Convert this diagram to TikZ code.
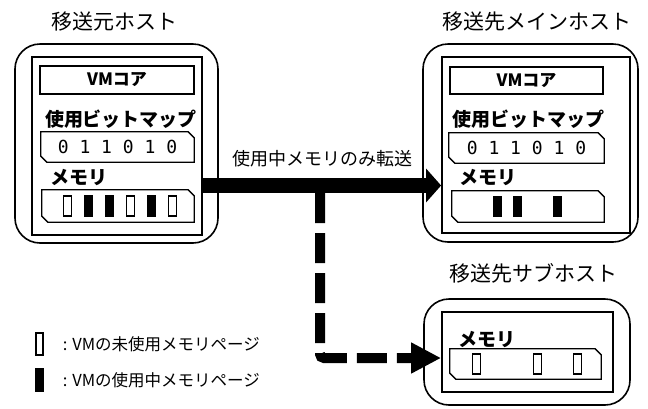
\documentclass[tikz,border=0pt]{standalone}
\usepackage{fontspec}
\setmainfont{Noto Sans CJK JP}
\newfontfamily\digitfont{DejaVu Sans Mono}
\usetikzlibrary{arrows.meta, positioning}

% outline with two cut corners (north east, south west)
\newcommand\chambox[1]{%
  \draw[line width=1.3pt] (#1.north west) -- ([xshift=-6pt]#1.north east) -- ([yshift=-6pt]#1.north east)
    -- (#1.south east) -- ([xshift=6pt]#1.south west) -- ([yshift=6pt]#1.south west) -- cycle;}

\begin{document}
\begin{tikzpicture}[
    x=1pt, y=-1pt,
    hostout/.style={draw, rounded corners=25pt, line width=1.6pt, inner sep=0pt},
    hostin/.style={draw, line width=1.8pt, inner sep=0pt},
    corebox/.style={draw, line width=1.3pt, inner sep=0pt, font=\bfseries\fontsize{17}{20}\selectfont},
    slotbox/.style={inner sep=0pt},
    head/.style={font=\fontsize{21}{24}\selectfont},
    part/.style={font=\bfseries\fontsize{19}{22}\selectfont, inner sep=0pt},
    pg0/.style={draw, line width=1.2pt, fill=white, minimum width=8pt, minimum height=20pt, inner sep=0pt},
    pg1/.style={pg0, fill=black},
    legend/.style={font=\fontsize{16.5}{18}\selectfont, inner sep=0pt},
    bigarrow/.style={line width=15pt, -{Triangle[length=15pt, width=33pt]}},
    dasharrow/.style={line width=10pt, dash pattern=on 30pt off 10pt, rounded corners=4pt,
      -{Triangle[length=30pt, width=29pt]}}
  ]
  \useasboundingbox (0,0) rectangle (648,408);

  % source host
  \node[head] (srchead) at (114.5,22) {移送元ホスト};
  \node[hostout, minimum width=203pt, minimum height=199pt] (srcout) at (116.5,143.5) {};
  \node[hostin, minimum width=170pt, minimum height=178pt] (srcin) at (117,146) {};
  \node[corebox, minimum width=154pt, minimum height=28pt] (srccore) at (117,80) {VMコア};
  \node[part] (srcbmp) at (121,119) {使用ビットマップ};
  \node[slotbox, minimum width=153pt, minimum height=30pt] (srcbits) at (117.5,147)
    {\digitfont\fontsize{18}{20}\selectfont 0 1 1 0 1 0};
  \chambox{srcbits}
  \node[part, anchor=west] (srcmemlabel) at (50,177) {メモリ};
  \node[slotbox, minimum width=152pt, minimum height=32pt] (srcmem) at (118,206) {};
  \chambox{srcmem}
  \foreach \b [count=\i] in {0,1,1,0,1,0}
    \node[pg\b] (srcpg\i) at ([xshift={25.5pt+(\i-1)*21pt}]srcmem.west) {};

  % main destination host
  \node[head] (dsthead) at (537,22) {移送先メインホスト};
  \node[hostout, minimum width=215pt, minimum height=198pt] (dstout) at (530.5,143) {};
  \node[hostin, minimum width=188pt, minimum height=176pt] (dstin) at (536,145) {};
  \node[corebox, minimum width=153pt, minimum height=27pt] (dstcore) at (526.5,80.5) {VMコア};
  \node[part] (dstbmp) at (528,119) {使用ビットマップ};
  \node[slotbox, minimum width=155pt, minimum height=30pt] (dstbits) at (526.5,148)
    {\digitfont\fontsize{18}{20}\selectfont 0 1 1 0 1 0};
  \chambox{dstbits}
  \node[part, anchor=west] (dstmemlabel) at (459,177) {メモリ};
  \node[slotbox, minimum width=152pt, minimum height=31pt] (dstmem) at (528,206.5) {};
  \chambox{dstmem}
  \foreach \i in {2,3,5}
    \node[pg1] (dstpg\i) at ([xshift={25.5pt+(\i-1)*20pt}]dstmem.west) {};

  % sub destination host
  \node[head] (subhead) at (533,273) {移送先サブホスト};
  \node[hostout, minimum width=206pt, minimum height=106pt] (subout) at (527,352) {};
  \node[hostin, minimum width=171pt, minimum height=80pt] (subin) at (527.5,352) {};
  \node[part, anchor=west] (submemlabel) at (458,339) {メモリ};
  \node[slotbox, minimum width=151pt, minimum height=30pt] (submem) at (525.5,364) {};
  \chambox{submem}
  \foreach \i in {1,4,6}
    \node[pg0] (subpg\i) at ([xshift={27pt+(\i-1)*20.2pt}]submem.west) {};

  % legend
  \node[pg0, minimum width=7pt, minimum height=22pt] (legfree) at (39.5,344) {};
  \node[legend, right=19pt of legfree] (legfreetext) {: VMの未使用メモリページ};
  \node[pg1, minimum width=7pt, minimum height=22pt] (legused) at (39.5,380) {};
  \node[legend, right=19pt of legused] (legusedtext) {: VMの使用中メモリページ};

  % transfers
  \coordinate (row) at (0,185.5);
  \coordinate (branch) at (320,193);
  \coordinate (subrow) at (0,358);
  \draw[bigarrow] (srcin.east |- row) -- node[midway, above=15pt, line width=0pt,
    font=\fontsize{18}{20}\selectfont] (movelabel) {使用中メモリのみ転送} (dstin.west |- row);
  \draw[dasharrow] (branch) |- (subin.west |- subrow);

\end{tikzpicture}
\end{document}
